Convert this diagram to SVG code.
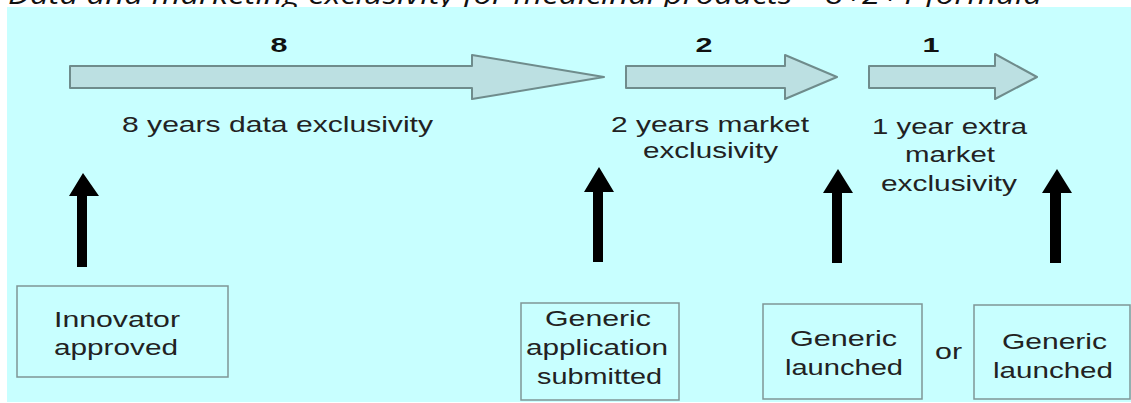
<svg xmlns="http://www.w3.org/2000/svg" width="1131" height="403" viewBox="0 0 1131 403">
  <style>
    .title { font-family: "Open Sans", "DejaVu Sans", sans-serif; font-style: italic; font-size: 27px; fill: #111; }
    .lbl { font-family: "Liberation Sans", Arial, sans-serif; font-size: 22px; fill: #222; text-anchor: middle; }
    .num { font-family: "Liberation Sans", Arial, sans-serif; font-size: 21px; font-weight: bold; fill: #111; text-anchor: middle; }
    .block { fill: #BCE0E2; stroke: #6F8C8C; stroke-width: 2; stroke-linejoin: round; }
    .box { fill: none; stroke: #7F9696; stroke-width: 1.5; }
    .up { fill: #000; }
  </style>
  <rect x="0" y="0" width="1131" height="403" fill="#FFFFFF"/>
  <text class="title" x="8" y="4" textLength="1034" lengthAdjust="spacingAndGlyphs">Data and marketing exclusivity for medicinal products – 8+2+1 formula</text>
  <rect x="7" y="7" width="1124" height="395" fill="#C8FFFF"/>

  <g id="period-8">
    <polygon class="block" points="70,66 472,66 472,55 604,77 472,99 472,88 70,88"/>
    <text class="num" x="279" y="52" textLength="17" lengthAdjust="spacingAndGlyphs">8</text>
    <text class="lbl" x="277.5" y="132" textLength="311" lengthAdjust="spacingAndGlyphs">8 years data exclusivity</text>
  </g>
  <g id="period-2">
    <polygon class="block" points="626,66 785,66 785,55 837,77 785,99 785,88 626,88"/>
    <text class="num" x="704" y="52" textLength="17" lengthAdjust="spacingAndGlyphs">2</text>
    <text class="lbl" x="710" y="132" textLength="198" lengthAdjust="spacingAndGlyphs">2 years market</text>
    <text class="lbl" x="710.5" y="158" textLength="135" lengthAdjust="spacingAndGlyphs">exclusivity</text>
  </g>
  <g id="period-1">
    <polygon class="block" points="869,66 995,66 995,54 1037,77 995,99 995,88 869,88"/>
    <text class="num" x="931" y="52" textLength="17" lengthAdjust="spacingAndGlyphs">1</text>
    <text class="lbl" x="949.5" y="134" textLength="155" lengthAdjust="spacingAndGlyphs">1 year extra</text>
    <text class="lbl" x="950" y="162" textLength="90" lengthAdjust="spacingAndGlyphs">market</text>
    <text class="lbl" x="949" y="191" textLength="136" lengthAdjust="spacingAndGlyphs">exclusivity</text>
  </g>

  <g id="connectors">
    <polygon class="up" points="77,267 87,267 87,196 99,196 83,173 69,196 77,196"/>
    <polygon class="up" points="593,262 603,262 603,192 614,192 599,167 584,192 593,192"/>
    <polygon class="up" points="832,263 842,263 842,193 853,193 838,169 823,193 832,193"/>
    <polygon class="up" points="1050,263 1061,263 1061,193 1072,193 1057,169 1042,193 1050,193"/>
  </g>

  <g id="innovator-approved">
    <rect class="box" x="17" y="286" width="211" height="91"/>
    <text class="lbl" x="117" y="327" textLength="126" lengthAdjust="spacingAndGlyphs">Innovator</text>
    <text class="lbl" x="116" y="355" textLength="124" lengthAdjust="spacingAndGlyphs">approved</text>
  </g>
  <g id="generic-application">
    <rect class="box" x="521" y="303" width="158" height="97"/>
    <text class="lbl" x="598" y="326" textLength="106" lengthAdjust="spacingAndGlyphs">Generic</text>
    <text class="lbl" x="597" y="355" textLength="142" lengthAdjust="spacingAndGlyphs">application</text>
    <text class="lbl" x="599.5" y="384" textLength="125" lengthAdjust="spacingAndGlyphs">submitted</text>
  </g>
  <g id="generic-launched-1">
    <rect class="box" x="763" y="304" width="159" height="95"/>
    <text class="lbl" x="843.5" y="346" textLength="107" lengthAdjust="spacingAndGlyphs">Generic</text>
    <text class="lbl" x="844" y="375" textLength="118" lengthAdjust="spacingAndGlyphs">launched</text>
  </g>
  <text id="or" class="lbl" x="948.5" y="359" textLength="27" lengthAdjust="spacingAndGlyphs">or</text>
  <g id="generic-launched-2">
    <rect class="box" x="974" y="305" width="156" height="94"/>
    <text class="lbl" x="1054.5" y="349" textLength="105" lengthAdjust="spacingAndGlyphs">Generic</text>
    <text class="lbl" x="1053" y="378" textLength="120" lengthAdjust="spacingAndGlyphs">launched</text>
  </g>
</svg>
